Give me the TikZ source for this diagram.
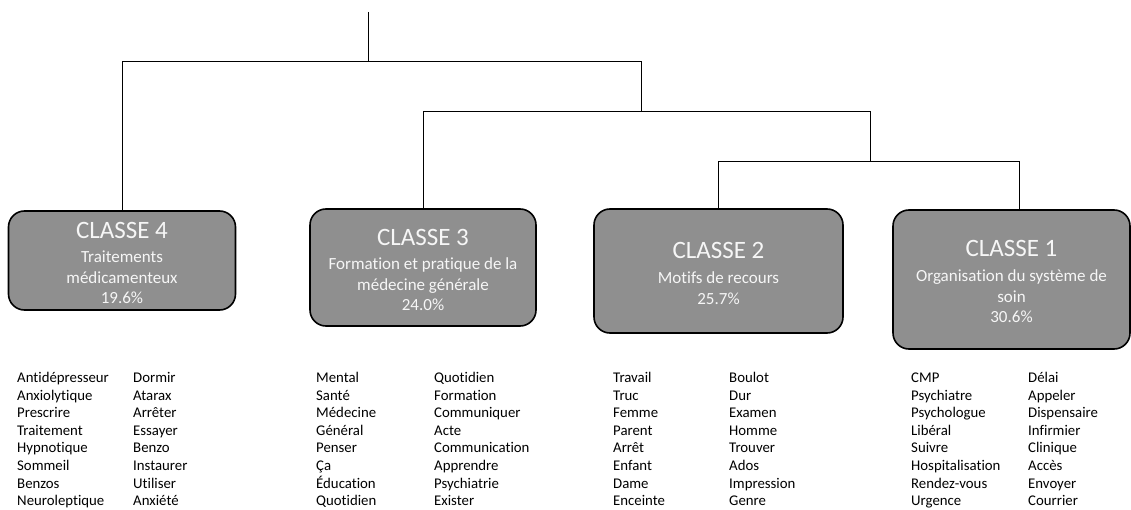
\documentclass[tikz,border=0pt]{standalone}
\usepackage{fontspec}
\setmainfont[Ligatures={NoCommon}]{Carlito}
\usetikzlibrary{positioning}
\definecolor{boxgray}{RGB}{143,143,143}
\definecolor{boxtext}{RGB}{246,246,246}
\tikzstyle{Classe} = [
draw=black,
line width=1.6pt,
fill=boxgray,
rounded corners=16pt,
text=boxtext,
align=center,
inner sep=0pt,
font=\fontsize{17}{20.7}\selectfont
]
\tikzstyle{Branch} = [line width=0.9pt]
\tikzstyle{Word} = [anchor=base west, inner sep=0pt, font=\fontsize{14.8}{18}\selectfont]
\newcommand{\classtitle}[1]{{\fontsize{25}{30}\selectfont\rule{0pt}{21pt}#1}}

\begin{document}
\begin{tikzpicture}[x=1pt, y=-1pt]
            \useasboundingbox (0,0) rectangle (1131,510);
            \node [Classe, minimum width=227pt, minimum height=99pt] (c4) at (122,260.5)
                {\classtitle{CLASSE 4}\\[3.5pt] Traitements\\ médicamenteux\\ 19.6\%};
            \node [Classe, minimum width=226pt, minimum height=117pt] (c3) at (423,267.5)
                {\classtitle{CLASSE 3}\\[3.5pt] Formation et pratique de la\\ médecine générale\\ 24.0\%};
            \node [Classe, minimum width=249pt, minimum height=124pt] (c2) at (718.5,271)
                {\classtitle{CLASSE 2}\\[4pt] Motifs de recours\\ 25.7\%};
            \node [Classe, minimum width=237pt, minimum height=139pt] (c1) at (1011.5,279.5)
                {\classtitle{CLASSE 1}\\[4pt] Organisation du système de\\ soin\\ 30.6\%};

            % dendrogram
            \coordinate (root) at (368,12);
            \coordinate (n1) at (368,61);
            \coordinate (n2) at (641,111);
            \coordinate (n3) at (870,161);
            \coordinate (r1) at (1019,161);
            \draw[Branch] (root) -- (n1);
            \draw[Branch] (c4.north) |- (n2 |- n1) -- (n2);
            \draw[Branch] (c3.north) |- (n3 |- n2) -- (n3);
            \draw[Branch] (c2.north) |- (r1) -- (r1 |- c1.north);

            % word lists
            \foreach \cx/\words [count=\c] in {
                17/{Antidépresseur,Anxiolytique,Prescrire,Traitement,Hypnotique,Sommeil,Benzos,Neuroleptique},
                133/{Dormir,Atarax,Arrêter,Essayer,Benzo,Instaurer,Utiliser,Anxiété},
                316/{Mental,Santé,Médecine,Général,Penser,Ça,Éducation,Quotidien},
                434/{Quotidien,Formation,Communiquer,Acte,Communication,Apprendre,Psychiatrie,Exister},
                613/{Travail,Truc,Femme,Parent,Arrêt,Enfant,Dame,Enceinte},
                729/{Boulot,Dur,Examen,Homme,Trouver,Ados,Impression,Genre},
                911/{CMP,Psychiatre,Psychologue,Libéral,Suivre,Hospitalisation,Rendez-vous,Urgence},
                1028/{Délai,Appeler,Dispensaire,Infirmier,Clinique,Accès,Envoyer,Courrier}}
                \foreach \w [count=\r] in \words
                    \node [Word] (w\c-\r) at (\cx,{382.5+17.6*(\r-1)}) {\w};
\end{tikzpicture}
\end{document}
